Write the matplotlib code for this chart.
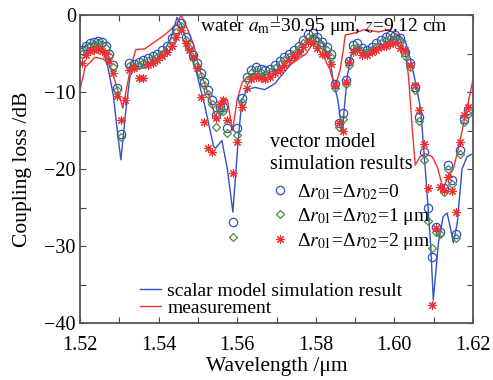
import matplotlib
matplotlib.use('Agg')
import numpy as np
import matplotlib.pyplot as plt
from matplotlib.lines import Line2D
from matplotlib.ticker import MultipleLocator

plt.rcParams['font.family'] = ['Liberation Serif', 'DejaVu Serif']
plt.rcParams['mathtext.fontset'] = 'stix'

# ---------------- data ----------------
# scalar model simulation (blue line)
scalar_wl = [1.5200, 1.5215, 1.5238, 1.5258, 1.5271, 1.5285, 1.5296, 1.5304, 1.5317, 1.5327,
             1.5335, 1.5370, 1.5405, 1.5430, 1.5440, 1.5447, 1.5460, 1.5475, 1.5493, 1.5518,
             1.5540, 1.5545, 1.5561, 1.5575, 1.5589, 1.5602, 1.5612, 1.5625, 1.5645, 1.5670,
             1.5696, 1.5710, 1.5735, 1.5760, 1.5785, 1.5798, 1.5818, 1.5836, 1.5844, 1.5856,
             1.5867, 1.5880, 1.5893, 1.5910, 1.5930, 1.5953, 1.5986, 1.6011, 1.6028, 1.6041,
             1.6054, 1.6067, 1.6080, 1.6092, 1.6099, 1.6112, 1.6124, 1.6134, 1.6142, 1.6150,
             1.6160, 1.6172, 1.6185, 1.6200]
scalar_db = [-4.5, -3.9, -3.6, -4.5, -6.8, -10.5, -15.5, -18.8, -12.3, -8.0,
             -7.1, -6.8, -5.4, -3.2, -1.5, -0.3, -1.5, -4.0, -6.8, -11.9,
             -17.1, -17.3, -16.3, -20.0, -25.6, -16.6, -11.0, -9.7, -9.4, -9.7,
             -8.9, -8.0, -6.5, -5.2, -3.0, -2.6, -3.7, -5.8, -8.4, -11.0,
             -15.2, -8.0, -4.5, -4.3, -5.0, -4.3, -3.5, -2.6, -3.4, -5.8,
             -8.8, -12.3, -21.0, -29.6, -37.0, -29.6, -26.2, -25.7, -27.5, -29.6,
             -27.0, -20.0, -18.4, -18.0]

# measurement (red line)
meas_wl = [1.5200, 1.5213, 1.5238, 1.5258, 1.5276, 1.5291, 1.5309, 1.5316, 1.5329, 1.5342,
           1.5365, 1.5390, 1.5415, 1.5448, 1.5457, 1.5475, 1.5490, 1.5504, 1.5529, 1.5545,
           1.5563, 1.5575, 1.5588, 1.5600, 1.5613, 1.5638, 1.5664, 1.5696, 1.5709, 1.5742,
           1.5776, 1.5792, 1.5818, 1.5836, 1.5849, 1.5862, 1.5870, 1.5875, 1.5893, 1.5925,
           1.5960, 1.5985, 1.6010, 1.6028, 1.6036, 1.6045, 1.6053, 1.6065, 1.6078, 1.6096,
           1.6109, 1.6124, 1.6137, 1.6150, 1.6162, 1.6180, 1.6200]
meas_db = [-9.7, -6.8, -5.5, -5.7, -6.5, -8.9, -12.1, -10.2, -6.8, -4.5,
           -4.4, -3.5, -2.6, -1.1, 0.0, -2.0, -4.0, -7.1, -10.6, -13.2,
           -10.8, -11.0, -15.0, -11.0, -8.7, -7.6, -8.0, -7.1, -7.1, -6.2,
           -5.0, -3.7, -5.2, -7.1, -9.4, -7.1, -4.5, -2.6, -2.4, -1.9,
           -2.2, -1.9, -2.6, -5.0, -8.0, -14.5, -19.5, -18.4, -18.0, -18.4,
           -19.7, -22.5, -21.0, -20.0, -17.5, -13.2, -8.4]

# vector model simulation (markers)
vec_wl = [1.5205, 1.5215, 1.5225, 1.5235, 1.5245, 1.5255, 1.5265, 1.5275, 1.5285, 1.5295,
          1.5305, 1.5315, 1.5325, 1.5337, 1.5349, 1.5361, 1.5373, 1.5385, 1.5397, 1.5409,
          1.5421, 1.5433, 1.5445, 1.5457, 1.5469, 1.5478, 1.5488, 1.5498, 1.5507, 1.5516,
          1.5526, 1.5536, 1.5545, 1.5555, 1.5565, 1.5575, 1.5590, 1.5600, 1.5612, 1.5624,
          1.5636, 1.5648, 1.5660, 1.5672, 1.5684, 1.5696, 1.5708, 1.5720, 1.5732, 1.5744,
          1.5756, 1.5768, 1.5780, 1.5792, 1.5804, 1.5816, 1.5828, 1.5838, 1.5850, 1.5860,
          1.5868, 1.5876, 1.5884, 1.5894, 1.5906, 1.5918, 1.5930, 1.5942, 1.5954, 1.5966,
          1.5978, 1.5990, 1.6002, 1.6014, 1.6028, 1.6040, 1.6052, 1.6062, 1.6075, 1.6085,
          1.6095, 1.6105, 1.6115, 1.6127, 1.6137, 1.6147, 1.6157, 1.6167, 1.6177, 1.6187]
dr0_db = [-4.5, -4.0, -3.7, -3.5, -3.4, -3.5, -4.0, -5.0, -6.5, -9.5,
          -15.5, np.nan, -6.2, -6.3, -6.1, -5.8, -5.6, -5.3, -5.0, -4.6,
          -4.0, -3.0, -1.8, -1.0, -2.8, -3.9, -5.2, -6.2, -7.5, -8.7,
          -9.7, -11.0, -13.0, -12.0, -12.0, -14.7, -26.9, -14.7, -10.8, -8.0,
          -7.1, -6.8, -7.0, -7.2, -7.0, -6.5, -6.0, -5.5, -5.0, -4.6,
          -4.0, -3.3, -2.5, -2.4, -2.8, -3.5, -4.1, -5.0, -9.0, -14.0,
          -12.7, -8.4, -6.0, -3.9, -3.7, -4.3, -4.5, -4.1, -3.7, -3.2,
          -2.8, -2.6, -2.6, -3.0, -4.8, -6.2, -9.3, -13.2, -17.8, -25.0,
          -31.4, -27.5, -28.2, -22.5, -19.5, -21.4, -28.5, -17.5, -13.5, -12.3]
dr1_db = [-5.0, -4.4, -4.0, -3.8, -3.7, -3.8, -4.3, -5.3, -6.8, -9.8,
          -15.8, np.nan, -6.6, -6.7, -6.5, -6.2, -6.0, -5.7, -5.4, -5.0,
          -4.4, -3.4, -2.2, -1.4, -3.2, -4.3, -5.6, -6.6, -7.9, -9.1,
          -10.3, -11.6, -14.5, -12.5, -12.5, -15.3, -28.8, -15.6, -11.3, -8.5,
          -7.5, -7.2, -7.4, -7.6, -7.4, -6.9, -6.4, -5.9, -5.4, -5.0,
          -4.4, -3.7, -2.9, -2.8, -3.2, -3.9, -4.5, -5.4, -9.5, -14.6,
          -13.5, -9.0, -6.5, -4.3, -4.1, -4.7, -4.9, -4.5, -4.1, -3.6,
          -3.2, -3.0, -3.0, -3.5, -5.3, -6.8, -9.8, -13.8, -18.8, -26.8,
          -30.3, -28.2, -28.5, -23.0, -20.0, -22.0, -29.0, -18.0, -13.9, -12.8]
dr2_db = [-6.2, -5.2, -4.7, -4.5, -4.4, -4.7, -5.0, -6.0, -7.5, -10.5,
          -13.6, -11.0, -7.2, -6.9, -8.2, -8.2, -6.5, -6.2, -5.8, -5.3,
          -4.8, -4.0, -2.8, -2.0, -3.7, -4.5, -5.5, -6.9, -10.6, -13.9,
          -17.3, -17.8, -13.4, -11.5, -11.0, -13.6, -20.5, -16.5, -11.9, -9.5,
          -8.3, -8.0, -8.2, -8.3, -8.0, -7.5, -7.1, -6.5, -5.8, -5.3,
          -4.8, -4.2, -3.5, -3.7, -4.3, -5.0, -5.2, -6.3, -9.1, -14.0,
          -15.0, -8.7, -6.1, -4.8, -4.6, -5.2, -5.2, -4.8, -4.5, -4.2,
          -4.0, -3.8, -3.7, -4.3, -4.6, -6.5, -9.1, -12.3, -16.7, -22.5,
          -37.7, -27.7, -22.3, -22.7, -21.0, -22.9, -25.6, -16.5, -13.0, -12.0]

# ---------------- plot ----------------
blue = '#2f52c4'
red = '#f03030'
green = '#4e8a3c'
star = (8, 2, 0)

fig = plt.figure(figsize=(4.93, 3.80), dpi=100)
ax = fig.add_axes([80/493, 1 - 323/380, 393/493, 308/380])

ax.plot(scalar_wl, scalar_db, color=blue, lw=1.0)
ax.plot(meas_wl, meas_db, color=red, lw=1.0)
ax.plot(vec_wl, dr0_db, 'o', mfc='none', mec=blue, ms=6, mew=0.9)
ax.plot(vec_wl, dr1_db, 'D', mfc='none', mec=green, ms=4.5, mew=0.9)
ax.plot(vec_wl, dr2_db, marker=star, ls='none', color=red, ms=6, mew=0.8)

ax.set_xlim(1.52, 1.62)
ax.set_ylim(-40, 0)
ax.xaxis.set_major_locator(MultipleLocator(0.02))
ax.xaxis.set_minor_locator(MultipleLocator(0.01))
ax.yaxis.set_major_locator(MultipleLocator(10))
ax.yaxis.set_minor_locator(MultipleLocator(5))
ax.xaxis.set_major_formatter(plt.FormatStrFormatter('%.2f'))
ax.tick_params(which='both', direction='in', top=True, right=True,
               length=4, width=0.8, labelsize=14.5, color='#444444')
ax.tick_params(axis='x', pad=9)
ax.tick_params(axis='y', pad=3)
for s in ax.spines.values():
    s.set_color('#555555')
    s.set_linewidth(1.3)

ax.set_xlabel('Wavelength /μm', fontsize=15.5, labelpad=2)
ax.set_ylabel('Coupling loss /dB', fontsize=15.5, labelpad=9)

ax.text(1.5505, -0.1, r'water $a_{\mathrm{m}}$=30.95 μm, $z$=9.12 cm',
        fontsize=14, va='top', ha='left')

vec_handles = [
    Line2D([], [], marker='o', ls='none', mfc='none', mec=blue, ms=6, mew=0.9),
    Line2D([], [], marker='D', ls='none', mfc='none', mec=green, ms=4.5, mew=0.9),
    Line2D([], [], marker=star, ls='none', color=red, ms=6, mew=0.8),
]
vec_labels = [r'Δ$r_{01}$=Δ$r_{02}$=0',
              r'Δ$r_{01}$=Δ$r_{02}$=1 μm',
              r'Δ$r_{01}$=Δ$r_{02}$=2 μm']
leg1 = ax.legend(vec_handles, vec_labels, title='vector model\nsimulation results',
                 loc='upper left', bbox_to_anchor=(270/493, 1 - 133/380),
                 bbox_transform=fig.transFigure, frameon=False, fontsize=14,
                 title_fontsize=14.5, alignment='left', handlelength=1.0,
                 handletextpad=0.4, labelspacing=0.2, borderpad=0,
                 borderaxespad=0)
leg1._legend_box.sep = 6
ax.add_artist(leg1)

line_handles = [Line2D([], [], color=blue, lw=1.0), Line2D([], [], color=red, lw=1.0)]
ax.legend(line_handles, ['scalar model simulation result', 'measurement'],
          loc='upper left', bbox_to_anchor=(140/493, 1 - 282/380),
          bbox_transform=fig.transFigure, frameon=False, fontsize=14,
          handlelength=1.1, handletextpad=0.3, labelspacing=0.0,
          borderpad=0, borderaxespad=0)

fig.savefig('out.png', dpi=100)
